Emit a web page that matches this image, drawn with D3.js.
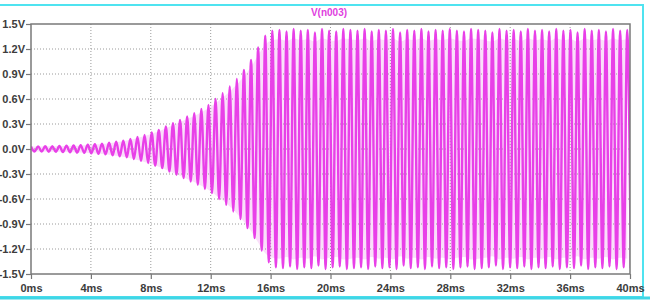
<!DOCTYPE html>
<html>
<head>
<meta charset="utf-8">
<script src="https://cdn.jsdelivr.net/npm/d3@7"></script>
<style>
body { margin: 0; background: #fff; }
</style>
</head>
<body>
<svg id="chart" width="650" height="304"></svg>
<script>
// tick values
var timeTicks = [0, 4, 8, 12, 16, 20, 24, 28, 32, 36, 40];
var voltTicks = [1.5, 1.2, 0.9, 0.6, 0.3, 0, -0.3, -0.6, -0.9, -1.2, -1.5];
var traceName = "V(n003)";

// one oscillation cycle is ~7px on screen => ~0.474 ms
var cycleMs = 0.474;

// peak amplitude (V) of each cycle
var peakV = [
	0.030, 0.031, 0.033, 0.035, 0.037, 0.040, 0.043, 0.047, 0.052, 0.058,
	0.065, 0.075, 0.088, 0.100, 0.120, 0.145, 0.170, 0.200, 0.230, 0.270,
	0.310, 0.350, 0.390, 0.430, 0.480, 0.530, 0.600, 0.670, 0.750, 0.840,
	0.950, 1.070, 1.220, 1.360, 1.420,
	1.43, 1.41, 1.44, 1.42, 1.43, 1.40, 1.44, 1.42, 1.41, 1.44,
	1.43, 1.42, 1.44, 1.41, 1.43, 1.42, 1.44, 1.40, 1.43, 1.42,
	1.44, 1.41, 1.43, 1.42, 1.44, 1.42, 1.41, 1.44, 1.43, 1.42,
	1.40, 1.44, 1.42, 1.43, 1.41, 1.44, 1.42, 1.43, 1.41, 1.44,
	1.42, 1.43, 1.40, 1.44, 1.42, 1.43, 1.41, 1.44, 1.42, 1.43
];

var svg = d3.select("#chart");
var plot = { left: 31, right: 630, top: 24, bottom: 274 };

var x = d3.scaleLinear().domain([0, 40]).range([plot.left, plot.right]);
var y = d3.scaleLinear().domain([-1.5, 1.5]).range([plot.bottom, plot.top]);

// cyan window frame
svg.append("rect")
	.attr("x", -2).attr("y", 5)
	.attr("width", 645).attr("height", 292)
	.attr("fill", "#fff")
	.attr("stroke", "#4fe3f0")
	.attr("stroke-width", 2);
svg.append("line")
	.attr("x1", 0).attr("x2", 650)
	.attr("y1", 298).attr("y2", 298)
	.attr("stroke", "#3fd6e6")
	.attr("stroke-width", 3);

svg.append("clipPath").attr("id", "clip")
	.append("rect")
	.attr("x", plot.left).attr("y", plot.top)
	.attr("width", plot.right - plot.left)
	.attr("height", plot.bottom - plot.top);

// faint haze between the strokes (the screenshot is blurred)
var area = d3.area()
	.x(function(d, k) { return x(k * cycleMs); })
	.y0(function(d) { return y(-d * 0.92); })
	.y1(function(d) { return y(d * 0.92); })
	.curve(d3.curveMonotoneX);

svg.append("path")
	.datum(peakV)
	.attr("clip-path", "url(#clip)")
	.attr("d", area)
	.attr("fill", "#f7caf7")
	.attr("opacity", 0.6);

// dotted grid
svg.append("g").selectAll("line")
	.data(timeTicks.slice(1, -1))
	.enter().append("line")
	.attr("x1", function(d) { return x(d); })
	.attr("x2", function(d) { return x(d); })
	.attr("y1", plot.top).attr("y2", plot.bottom)
	.attr("stroke", "#9a9a9a")
	.attr("stroke-dasharray", "1,2");

svg.append("g").selectAll("line")
	.data(voltTicks.slice(1, -1))
	.enter().append("line")
	.attr("x1", plot.left).attr("x2", plot.right)
	.attr("y1", function(d) { return y(d); })
	.attr("y2", function(d) { return y(d); })
	.attr("stroke", "#9a9a9a")
	.attr("stroke-dasharray", "1,2");

// the trace: alternating peaks and troughs
var pts = [];
peakV.forEach(function(v, k) {
	pts.push([k * cycleMs, v]);
	pts.push([(k + 0.5) * cycleMs, -v]);
});

var line = d3.line()
	.x(function(d) { return x(d[0]); })
	.y(function(d) { return y(d[1]); })
	.curve(d3.curveMonotoneX);

svg.append("path")
	.datum(pts)
	.attr("clip-path", "url(#clip)")
	.attr("d", line)
	.attr("fill", "none")
	.attr("stroke", "#e840e8")
	.attr("stroke-width", 2.4);

// axes
var fmtV = function(d) { return d.toFixed(1) + "V"; };
var fmtT = function(d) { return d + "ms"; };

var yAxis = svg.append("g")
	.attr("transform", "translate(" + plot.left + ",0)")
	.call(d3.axisLeft(y).tickValues(voltTicks).tickFormat(fmtV).tickSize(5).tickPadding(1));

var xAxis = svg.append("g")
	.attr("transform", "translate(0," + plot.bottom + ")")
	.call(d3.axisBottom(x).tickValues(timeTicks).tickFormat(fmtT).tickSize(5).tickPadding(5));

[yAxis, xAxis].forEach(function(a) {
	a.select(".domain").remove();
	a.selectAll("line").attr("stroke", "#777").attr("stroke-width", 1.2);
	a.selectAll("text")
		.attr("fill", "#3c3c3c")
		.style("font-family", "'Liberation Sans Narrow', 'Arial Narrow', sans-serif")
		.style("font-weight", "bold")
		.style("font-size", "11px");
});

// plot frame
svg.append("rect")
	.attr("x", plot.left).attr("y", plot.top)
	.attr("width", plot.right - plot.left)
	.attr("height", plot.bottom - plot.top)
	.attr("fill", "none")
	.attr("stroke", "#7a7a7a")
	.attr("stroke-width", 1.5);

svg.append("text")
	.attr("x", 329).attr("y", 16)
	.attr("text-anchor", "middle")
	.attr("fill", "#e040e0")
	.style("font-family", "'Liberation Sans Narrow', 'Arial Narrow', sans-serif")
	.style("font-weight", "bold")
	.style("font-size", "10px")
	.text(traceName);
</script>
</body>
</html>
